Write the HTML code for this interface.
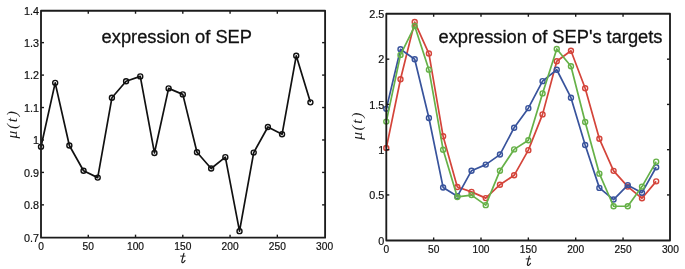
<!DOCTYPE html>
<html><head><meta charset="utf-8"><style>
html,body{margin:0;padding:0;background:#fff;}
body{width:685px;height:269px;overflow:hidden;}
svg{display:block;will-change:transform;}
.tk{stroke:#1a1a1a;stroke-width:1.4;}
.box{fill:none;stroke:#1c1c1c;stroke-width:1.85;stroke-linejoin:round;}
.tl{font-family:"Liberation Sans",sans-serif;font-size:10.2px;fill:#111;stroke:#111;stroke-width:0.2px;}
.ti{font-family:"Liberation Sans",sans-serif;font-size:18.3px;fill:#111;stroke:#111;stroke-width:0.3px;}
.ax{font-family:"Liberation Serif",serif;font-style:italic;font-size:15.5px;letter-spacing:1.6px;fill:#1a1a1a;}
</style></head><body>
<svg width="685" height="269" viewBox="0 0 685 269">
<polyline points="41.00,146.78 55.18,82.87 69.36,145.49 83.54,170.79 97.72,177.61 111.90,97.80 126.08,81.25 140.26,76.38 154.44,152.95 168.62,88.39 182.80,94.39 196.98,152.30 211.16,168.52 225.34,157.17 239.52,231.14 253.70,152.62 267.88,126.99 282.06,134.29 296.24,55.78 310.42,102.34" fill="none" stroke="#111" stroke-width="1.7" stroke-linejoin="round"/>
<circle cx="41.00" cy="146.78" r="2.5" fill="none" stroke="#111" stroke-width="1.4"/>
<circle cx="55.18" cy="82.87" r="2.5" fill="none" stroke="#111" stroke-width="1.4"/>
<circle cx="69.36" cy="145.49" r="2.5" fill="none" stroke="#111" stroke-width="1.4"/>
<circle cx="83.54" cy="170.79" r="2.5" fill="none" stroke="#111" stroke-width="1.4"/>
<circle cx="97.72" cy="177.61" r="2.5" fill="none" stroke="#111" stroke-width="1.4"/>
<circle cx="111.90" cy="97.80" r="2.5" fill="none" stroke="#111" stroke-width="1.4"/>
<circle cx="126.08" cy="81.25" r="2.5" fill="none" stroke="#111" stroke-width="1.4"/>
<circle cx="140.26" cy="76.38" r="2.5" fill="none" stroke="#111" stroke-width="1.4"/>
<circle cx="154.44" cy="152.95" r="2.5" fill="none" stroke="#111" stroke-width="1.4"/>
<circle cx="168.62" cy="88.39" r="2.5" fill="none" stroke="#111" stroke-width="1.4"/>
<circle cx="182.80" cy="94.39" r="2.5" fill="none" stroke="#111" stroke-width="1.4"/>
<circle cx="196.98" cy="152.30" r="2.5" fill="none" stroke="#111" stroke-width="1.4"/>
<circle cx="211.16" cy="168.52" r="2.5" fill="none" stroke="#111" stroke-width="1.4"/>
<circle cx="225.34" cy="157.17" r="2.5" fill="none" stroke="#111" stroke-width="1.4"/>
<circle cx="239.52" cy="231.14" r="2.5" fill="none" stroke="#111" stroke-width="1.4"/>
<circle cx="253.70" cy="152.62" r="2.5" fill="none" stroke="#111" stroke-width="1.4"/>
<circle cx="267.88" cy="126.99" r="2.5" fill="none" stroke="#111" stroke-width="1.4"/>
<circle cx="282.06" cy="134.29" r="2.5" fill="none" stroke="#111" stroke-width="1.4"/>
<circle cx="296.24" cy="55.78" r="2.5" fill="none" stroke="#111" stroke-width="1.4"/>
<circle cx="310.42" cy="102.34" r="2.5" fill="none" stroke="#111" stroke-width="1.4"/>
<text x="41.00" y="250.15" class="tl" text-anchor="middle">0</text>
<line x1="88.27" y1="237.65" x2="88.27" y2="234.65" class="tk"/>
<line x1="88.27" y1="10.75" x2="88.27" y2="13.75" class="tk"/>
<text x="88.27" y="250.15" class="tl" text-anchor="middle">50</text>
<line x1="135.53" y1="237.65" x2="135.53" y2="234.65" class="tk"/>
<line x1="135.53" y1="10.75" x2="135.53" y2="13.75" class="tk"/>
<text x="135.53" y="250.15" class="tl" text-anchor="middle">100</text>
<line x1="182.80" y1="237.65" x2="182.80" y2="234.65" class="tk"/>
<line x1="182.80" y1="10.75" x2="182.80" y2="13.75" class="tk"/>
<text x="182.80" y="250.15" class="tl" text-anchor="middle">150</text>
<line x1="230.07" y1="237.65" x2="230.07" y2="234.65" class="tk"/>
<line x1="230.07" y1="10.75" x2="230.07" y2="13.75" class="tk"/>
<text x="230.07" y="250.15" class="tl" text-anchor="middle">200</text>
<line x1="277.33" y1="237.65" x2="277.33" y2="234.65" class="tk"/>
<line x1="277.33" y1="10.75" x2="277.33" y2="13.75" class="tk"/>
<text x="277.33" y="250.15" class="tl" text-anchor="middle">250</text>
<text x="324.60" y="250.15" class="tl" text-anchor="middle">300</text>
<text x="39.00" y="241.60" class="tl" style="font-size:10.8px" text-anchor="end">0.7</text>
<line x1="41.00" y1="204.86" x2="44.00" y2="204.86" class="tk"/>
<line x1="325.10" y1="204.86" x2="322.10" y2="204.86" class="tk"/>
<text x="39.00" y="209.16" class="tl" style="font-size:10.8px" text-anchor="end">0.8</text>
<line x1="41.00" y1="172.41" x2="44.00" y2="172.41" class="tk"/>
<line x1="325.10" y1="172.41" x2="322.10" y2="172.41" class="tk"/>
<text x="39.00" y="176.71" class="tl" style="font-size:10.8px" text-anchor="end">0.9</text>
<line x1="41.00" y1="139.97" x2="44.00" y2="139.97" class="tk"/>
<line x1="325.10" y1="139.97" x2="322.10" y2="139.97" class="tk"/>
<text x="39.00" y="144.27" class="tl" style="font-size:10.8px" text-anchor="end">1</text>
<line x1="41.00" y1="107.53" x2="44.00" y2="107.53" class="tk"/>
<line x1="325.10" y1="107.53" x2="322.10" y2="107.53" class="tk"/>
<text x="39.00" y="111.83" class="tl" style="font-size:10.8px" text-anchor="end">1.1</text>
<line x1="41.00" y1="75.09" x2="44.00" y2="75.09" class="tk"/>
<line x1="325.10" y1="75.09" x2="322.10" y2="75.09" class="tk"/>
<text x="39.00" y="79.39" class="tl" style="font-size:10.8px" text-anchor="end">1.2</text>
<line x1="41.00" y1="42.64" x2="44.00" y2="42.64" class="tk"/>
<line x1="325.10" y1="42.64" x2="322.10" y2="42.64" class="tk"/>
<text x="39.00" y="46.94" class="tl" style="font-size:10.8px" text-anchor="end">1.3</text>
<text x="39.00" y="14.50" class="tl" style="font-size:10.8px" text-anchor="end">1.4</text>
<rect x="41.00" y="10.75" width="284.10" height="226.90" class="box"/>
<text x="101.6" y="42.75" class="ti" style="font-size:18.3px">expression of SEP</text>
<g transform="translate(0.20,0.00)" fill="none" stroke="#1a1a1a" stroke-linecap="round"><path d="M183.7,253.3 L181.75,260.7 Q181.3,262.9 182.7,262.6 Q184.0,262.2 184.8,260.5" stroke-width="1.15"/><path d="M180.4,256.1 L184.9,256.1" stroke-width="0.9"/></g>
<text transform="translate(16.60,124.00) rotate(-90)" class="ax" text-anchor="middle">&#956;(t)</text>
<polyline points="386.30,148.05 400.50,79.26 414.71,22.05 428.92,53.55 443.12,136.28 457.32,186.97 471.53,191.86 485.74,198.11 499.94,184.71 514.14,175.30 528.35,150.13 542.55,114.38 556.76,61.24 570.96,50.74 585.17,88.31 599.38,138.82 613.58,170.86 627.78,186.61 641.99,198.29 656.19,181.36" fill="none" stroke="#d4443a" stroke-width="1.7" stroke-linejoin="round"/>
<circle cx="386.30" cy="148.05" r="2.5" fill="none" stroke="#d4443a" stroke-width="1.4"/>
<circle cx="400.50" cy="79.26" r="2.5" fill="none" stroke="#d4443a" stroke-width="1.4"/>
<circle cx="414.71" cy="22.05" r="2.5" fill="none" stroke="#d4443a" stroke-width="1.4"/>
<circle cx="428.92" cy="53.55" r="2.5" fill="none" stroke="#d4443a" stroke-width="1.4"/>
<circle cx="443.12" cy="136.28" r="2.5" fill="none" stroke="#d4443a" stroke-width="1.4"/>
<circle cx="457.32" cy="186.97" r="2.5" fill="none" stroke="#d4443a" stroke-width="1.4"/>
<circle cx="471.53" cy="191.86" r="2.5" fill="none" stroke="#d4443a" stroke-width="1.4"/>
<circle cx="485.74" cy="198.11" r="2.5" fill="none" stroke="#d4443a" stroke-width="1.4"/>
<circle cx="499.94" cy="184.71" r="2.5" fill="none" stroke="#d4443a" stroke-width="1.4"/>
<circle cx="514.14" cy="175.30" r="2.5" fill="none" stroke="#d4443a" stroke-width="1.4"/>
<circle cx="528.35" cy="150.13" r="2.5" fill="none" stroke="#d4443a" stroke-width="1.4"/>
<circle cx="542.55" cy="114.38" r="2.5" fill="none" stroke="#d4443a" stroke-width="1.4"/>
<circle cx="556.76" cy="61.24" r="2.5" fill="none" stroke="#d4443a" stroke-width="1.4"/>
<circle cx="570.96" cy="50.74" r="2.5" fill="none" stroke="#d4443a" stroke-width="1.4"/>
<circle cx="585.17" cy="88.31" r="2.5" fill="none" stroke="#d4443a" stroke-width="1.4"/>
<circle cx="599.38" cy="138.82" r="2.5" fill="none" stroke="#d4443a" stroke-width="1.4"/>
<circle cx="613.58" cy="170.86" r="2.5" fill="none" stroke="#d4443a" stroke-width="1.4"/>
<circle cx="627.78" cy="186.61" r="2.5" fill="none" stroke="#d4443a" stroke-width="1.4"/>
<circle cx="641.99" cy="198.29" r="2.5" fill="none" stroke="#d4443a" stroke-width="1.4"/>
<circle cx="656.19" cy="181.36" r="2.5" fill="none" stroke="#d4443a" stroke-width="1.4"/>
<polyline points="386.30,108.86 400.50,49.29 414.71,59.25 428.92,118.00 443.12,187.43 457.32,196.30 471.53,170.68 485.74,164.62 499.94,154.57 514.14,127.68 528.35,108.13 542.55,81.16 556.76,69.75 570.96,97.72 585.17,144.97 599.38,187.88 613.58,199.56 627.78,185.16 641.99,192.68 656.19,167.24" fill="none" stroke="#38539c" stroke-width="1.7" stroke-linejoin="round"/>
<circle cx="386.30" cy="108.86" r="2.5" fill="none" stroke="#38539c" stroke-width="1.4"/>
<circle cx="400.50" cy="49.29" r="2.5" fill="none" stroke="#38539c" stroke-width="1.4"/>
<circle cx="414.71" cy="59.25" r="2.5" fill="none" stroke="#38539c" stroke-width="1.4"/>
<circle cx="428.92" cy="118.00" r="2.5" fill="none" stroke="#38539c" stroke-width="1.4"/>
<circle cx="443.12" cy="187.43" r="2.5" fill="none" stroke="#38539c" stroke-width="1.4"/>
<circle cx="457.32" cy="196.30" r="2.5" fill="none" stroke="#38539c" stroke-width="1.4"/>
<circle cx="471.53" cy="170.68" r="2.5" fill="none" stroke="#38539c" stroke-width="1.4"/>
<circle cx="485.74" cy="164.62" r="2.5" fill="none" stroke="#38539c" stroke-width="1.4"/>
<circle cx="499.94" cy="154.57" r="2.5" fill="none" stroke="#38539c" stroke-width="1.4"/>
<circle cx="514.14" cy="127.68" r="2.5" fill="none" stroke="#38539c" stroke-width="1.4"/>
<circle cx="528.35" cy="108.13" r="2.5" fill="none" stroke="#38539c" stroke-width="1.4"/>
<circle cx="542.55" cy="81.16" r="2.5" fill="none" stroke="#38539c" stroke-width="1.4"/>
<circle cx="556.76" cy="69.75" r="2.5" fill="none" stroke="#38539c" stroke-width="1.4"/>
<circle cx="570.96" cy="97.72" r="2.5" fill="none" stroke="#38539c" stroke-width="1.4"/>
<circle cx="585.17" cy="144.97" r="2.5" fill="none" stroke="#38539c" stroke-width="1.4"/>
<circle cx="599.38" cy="187.88" r="2.5" fill="none" stroke="#38539c" stroke-width="1.4"/>
<circle cx="613.58" cy="199.56" r="2.5" fill="none" stroke="#38539c" stroke-width="1.4"/>
<circle cx="627.78" cy="185.16" r="2.5" fill="none" stroke="#38539c" stroke-width="1.4"/>
<circle cx="641.99" cy="192.68" r="2.5" fill="none" stroke="#38539c" stroke-width="1.4"/>
<circle cx="656.19" cy="167.24" r="2.5" fill="none" stroke="#38539c" stroke-width="1.4"/>
<polyline points="386.30,121.62 400.50,54.91 414.71,26.03 428.92,69.66 443.12,149.68 457.32,196.93 471.53,195.12 485.74,205.17 499.94,170.68 514.14,149.41 528.35,140.18 542.55,93.38 556.76,48.93 570.96,66.31 585.17,121.98 599.38,173.67 613.58,206.25 627.78,206.25 641.99,186.61 656.19,161.63" fill="none" stroke="#66b148" stroke-width="1.7" stroke-linejoin="round"/>
<circle cx="386.30" cy="121.62" r="2.5" fill="none" stroke="#66b148" stroke-width="1.4"/>
<circle cx="400.50" cy="54.91" r="2.5" fill="none" stroke="#66b148" stroke-width="1.4"/>
<circle cx="414.71" cy="26.03" r="2.5" fill="none" stroke="#66b148" stroke-width="1.4"/>
<circle cx="428.92" cy="69.66" r="2.5" fill="none" stroke="#66b148" stroke-width="1.4"/>
<circle cx="443.12" cy="149.68" r="2.5" fill="none" stroke="#66b148" stroke-width="1.4"/>
<circle cx="457.32" cy="196.93" r="2.5" fill="none" stroke="#66b148" stroke-width="1.4"/>
<circle cx="471.53" cy="195.12" r="2.5" fill="none" stroke="#66b148" stroke-width="1.4"/>
<circle cx="485.74" cy="205.17" r="2.5" fill="none" stroke="#66b148" stroke-width="1.4"/>
<circle cx="499.94" cy="170.68" r="2.5" fill="none" stroke="#66b148" stroke-width="1.4"/>
<circle cx="514.14" cy="149.41" r="2.5" fill="none" stroke="#66b148" stroke-width="1.4"/>
<circle cx="528.35" cy="140.18" r="2.5" fill="none" stroke="#66b148" stroke-width="1.4"/>
<circle cx="542.55" cy="93.38" r="2.5" fill="none" stroke="#66b148" stroke-width="1.4"/>
<circle cx="556.76" cy="48.93" r="2.5" fill="none" stroke="#66b148" stroke-width="1.4"/>
<circle cx="570.96" cy="66.31" r="2.5" fill="none" stroke="#66b148" stroke-width="1.4"/>
<circle cx="585.17" cy="121.98" r="2.5" fill="none" stroke="#66b148" stroke-width="1.4"/>
<circle cx="599.38" cy="173.67" r="2.5" fill="none" stroke="#66b148" stroke-width="1.4"/>
<circle cx="613.58" cy="206.25" r="2.5" fill="none" stroke="#66b148" stroke-width="1.4"/>
<circle cx="627.78" cy="206.25" r="2.5" fill="none" stroke="#66b148" stroke-width="1.4"/>
<circle cx="641.99" cy="186.61" r="2.5" fill="none" stroke="#66b148" stroke-width="1.4"/>
<circle cx="656.19" cy="161.63" r="2.5" fill="none" stroke="#66b148" stroke-width="1.4"/>
<text x="386.30" y="252.95" class="tl" text-anchor="middle">0</text>
<line x1="433.65" y1="240.45" x2="433.65" y2="237.45" class="tk"/>
<line x1="433.65" y1="13.75" x2="433.65" y2="16.75" class="tk"/>
<text x="433.65" y="252.95" class="tl" text-anchor="middle">50</text>
<line x1="481.00" y1="240.45" x2="481.00" y2="237.45" class="tk"/>
<line x1="481.00" y1="13.75" x2="481.00" y2="16.75" class="tk"/>
<text x="481.00" y="252.95" class="tl" text-anchor="middle">100</text>
<line x1="528.35" y1="240.45" x2="528.35" y2="237.45" class="tk"/>
<line x1="528.35" y1="13.75" x2="528.35" y2="16.75" class="tk"/>
<text x="528.35" y="252.95" class="tl" text-anchor="middle">150</text>
<line x1="575.70" y1="240.45" x2="575.70" y2="237.45" class="tk"/>
<line x1="575.70" y1="13.75" x2="575.70" y2="16.75" class="tk"/>
<text x="575.70" y="252.95" class="tl" text-anchor="middle">200</text>
<line x1="623.05" y1="240.45" x2="623.05" y2="237.45" class="tk"/>
<line x1="623.05" y1="13.75" x2="623.05" y2="16.75" class="tk"/>
<text x="623.05" y="252.95" class="tl" text-anchor="middle">250</text>
<text x="670.40" y="252.95" class="tl" text-anchor="middle">300</text>
<text x="384.30" y="244.50" class="tl" style="font-size:10.8px" text-anchor="end">0</text>
<line x1="386.30" y1="194.94" x2="389.30" y2="194.94" class="tk"/>
<line x1="670.00" y1="194.94" x2="667.00" y2="194.94" class="tk"/>
<text x="384.30" y="199.24" class="tl" style="font-size:10.8px" text-anchor="end">0.5</text>
<line x1="386.30" y1="149.68" x2="389.30" y2="149.68" class="tk"/>
<line x1="670.00" y1="149.68" x2="667.00" y2="149.68" class="tk"/>
<text x="384.30" y="153.98" class="tl" style="font-size:10.8px" text-anchor="end">1</text>
<line x1="386.30" y1="104.42" x2="389.30" y2="104.42" class="tk"/>
<line x1="670.00" y1="104.42" x2="667.00" y2="104.42" class="tk"/>
<text x="384.30" y="108.72" class="tl" style="font-size:10.8px" text-anchor="end">1.5</text>
<line x1="386.30" y1="59.16" x2="389.30" y2="59.16" class="tk"/>
<line x1="670.00" y1="59.16" x2="667.00" y2="59.16" class="tk"/>
<text x="384.30" y="63.46" class="tl" style="font-size:10.8px" text-anchor="end">2</text>
<text x="384.30" y="18.20" class="tl" style="font-size:10.8px" text-anchor="end">2.5</text>
<rect x="386.30" y="13.75" width="283.70" height="226.70" class="box"/>
<text x="438.5" y="42.6" class="ti" style="font-size:18.3px">expression of SEP's targets</text>
<g transform="translate(345.75,2.80)" fill="none" stroke="#1a1a1a" stroke-linecap="round"><path d="M183.7,253.3 L181.75,260.7 Q181.3,262.9 182.7,262.6 Q184.0,262.2 184.8,260.5" stroke-width="1.15"/><path d="M180.4,256.1 L184.9,256.1" stroke-width="0.9"/></g>
<text transform="translate(361.90,125.40) rotate(-90)" class="ax" text-anchor="middle">&#956;(t)</text>
</svg>
</body></html>
